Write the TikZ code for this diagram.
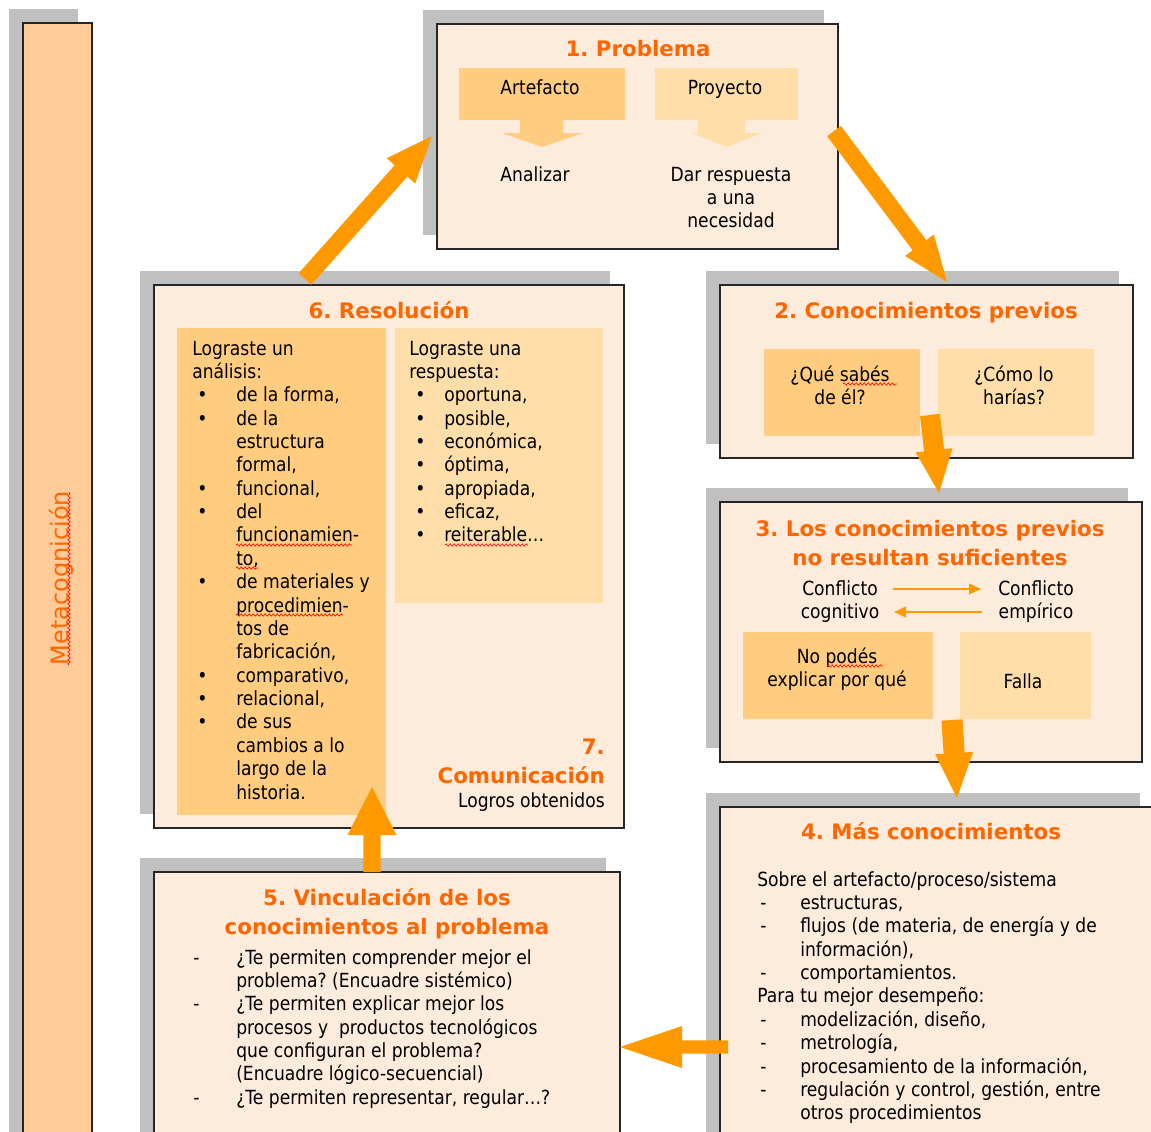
\documentclass[tikz,border=0pt]{standalone}
\usepackage{fontspec}
\setmainfont{DejaVu Sans}[FakeStretch=0.88]
\newfontfamily\titlef{DejaVu Sans}
\newfontfamily\metaf{DejaVu Sans}
\usetikzlibrary{arrows.meta,shadows,fit,calc,decorations.pathmorphing}
\frenchspacing
\definecolor{panelfill}{HTML}{FDEBDC}
\definecolor{shadowgray}{HTML}{C0C0C0}
\definecolor{barfill}{HTML}{FFCC99}
\definecolor{subdark}{HTML}{FFCC80}
\definecolor{sublight}{HTML}{FFDEAA}
\definecolor{arroworange}{HTML}{FF9900}
\definecolor{titleorange}{HTML}{FF6600}
\newcommand\bigarr[5]{%
  \coordinate (baH) at ($(#2)!#5!(#1)$);
  \fill[arrowfill] ($(#1)!#3!90:(#2)$) -- ($(baH)!#3!90:(#2)$) -- ($(baH)!#4!90:(#2)$) -- (#2) -- ($(baH)!#4!-90:(#2)$) -- ($(baH)!#3!-90:(#2)$) -- ($(#1)!#3!-90:(#2)$) -- cycle;
}
\newcommand\bl[3]{\hspace*{#1}\makebox[#2][l]{#3}}
\begin{document}
\begin{tikzpicture}[x=0.75pt,y=-0.75pt,
  panel/.style={inner sep=0pt, fill=panelfill, draw=black!85, line width=1.1pt,
    drop shadow={shadow xshift=-10.5pt, shadow yshift=10.5pt, fill=shadowgray, opacity=1}},
  subd/.style={inner sep=0pt, fill=subdark, draw=none},
  subl/.style={inner sep=0pt, fill=sublight, draw=none},
  body/.style={inner sep=0pt, text=black, font=\frenchspacing\fontsize{14.6}{17.53}\selectfont},
  ttl/.style={inner sep=0pt, text=titleorange, font=\frenchspacing\titlef\bfseries\fontsize{16}{21.75}\selectfont},
  meta/.style={inner sep=0pt, text=titleorange, font=\metaf\fontsize{18}{22}\selectfont},
  arrowfill/.style={fill=arroworange},
  smallarr/.style={draw=arroworange, line width=1.4pt, -{Triangle[length=9pt,width=8pt]}},
  squig/.style={draw=red, line width=0.5pt, decorate, decoration={snake, amplitude=0.8pt, segment length=3pt}}
]
\useasboundingbox (0,0) rectangle (1151,1131);
\fill[white] (0,0) rectangle (1151,1131);
\clip (0,0) rectangle (1151,1131);

% Metacognicion bar
\node[panel, fill=barfill, fit={(23,23)(92,1150)}] (bar) {};
\node[meta, rotate=90] (metatxt) at (61,578) {Metacognición};
\draw[squig] (69,665) -- (69,492);

% Box 1
\node[panel, fit={(437,24)(838,249)}] (p1) {};
\node[ttl, anchor=base] (t1) at (638,57) {1. Problema};
\node[subd, fit={(459,68)(625,120)}] (art) {};
\node[subl, fit={(655,68)(798,120)}] (proy) {};
\node[body, anchor=base] (artt) at (540,94) {Artefacto};
\node[body, anchor=base] (proyt) at (725,94) {Proyecto};
\fill[subdark] (520,119) -- (563,119) -- (563,133) -- (583,133) -- (542,147) -- (502,133) -- (520,133) -- cycle;
\fill[sublight] (698,119) -- (745,119) -- (745,133) -- (762,133) -- (727,147) -- (692,133) -- (698,133) -- cycle;
\node[body, anchor=base] (anal) at (535,181) {Analizar};
\node[body, anchor=base] (dar) at (731,181) {\parbox[t]{150pt}{\centering Dar respuesta\\a una\\necesidad}};

% Box 2
\node[panel, fit={(720,285)(1133,458)}] (p2) {};
\node[ttl, anchor=base] (t2) at (926,318) {2. Conocimientos previos};
\node[subd, fit={(764,349)(920,436)}] (que) {};
\node[subl, fit={(938,349)(1094,436)}] (como) {};
\node[body, anchor=base] (quet) at (840,381) {\parbox[t]{150pt}{\centering ¿Qué sabés\\de él?}};
\node[body, anchor=base] (comot) at (1014,381) {\parbox[t]{150pt}{\centering ¿Cómo lo\\harías?}};
\draw[squig] (843,384) -- (897,384);

% Box 3
\node[panel, fit={(720,502)(1142,762)}] (p3) {};
\node[ttl, anchor=base] (t3) at (930,536) {\parbox[t]{400pt}{\centering 3. Los conocimientos previos\\no resultan suficientes}};
\node[body, anchor=base] (cc) at (840,595) {\parbox[t]{100pt}{\centering Conflicto\\cognitivo}};
\node[body, anchor=base] (ce) at (1036,595) {\parbox[t]{100pt}{\centering Conflicto\\empírico}};
\coordinate (r1s) at (893,589); \coordinate (r1t) at (981,589);
\coordinate (l1s) at (982,612); \coordinate (l1t) at (894,612);
\draw[smallarr] (r1s) -- (r1t);
\draw[smallarr] (l1s) -- (l1t);
\node[subd, fit={(743,632)(933,719)}] (nop) {};
\node[subl, fit={(960,632)(1091,719)}] (falla) {};
\node[body, anchor=base] (nopt) at (837,663) {\parbox[t]{180pt}{\centering No podés\\explicar por qué}};
\node[body, anchor=base] (fallat) at (1023,688) {Falla};
\draw[squig] (827,666) -- (883,666);

% Box 4
\node[panel, fit={(720,807)(1154,1150)}] (p4) {};
\node[ttl, anchor=base] (t4) at (931,839) {4. Más conocimientos};
\node[body, anchor=base west] (l4) at (757,886) {\parbox[t]{400pt}{\raggedright
Sobre el artefacto/proceso/sistema\\
\bl{2.25pt}{30pt}{-}estructuras,\\
\bl{2.25pt}{30pt}{-}flujos (de materia, de energía y de\\
\hspace*{32.25pt}información),\\
\bl{2.25pt}{30pt}{-}comportamientos.\\
Para tu mejor desempeño:\\
\bl{2.25pt}{30pt}{-}modelización, diseño,\\
\bl{2.25pt}{30pt}{-}metrología,\\
\bl{2.25pt}{30pt}{-}procesamiento de la información,\\
\bl{2.25pt}{30pt}{-}regulación y control, gestión, entre\\
\hspace*{32.25pt}otros procedimientos}};

% Box 5
\node[panel, fit={(154,872)(620,1150)}] (p5) {};
\node[ttl, anchor=base] (t5) at (387,905) {\parbox[t]{400pt}{\centering 5. Vinculación de los\\conocimientos al problema}};
\node[body, anchor=base west] (l5) at (193,964) {\parbox[t]{400pt}{\raggedright
\bl{0pt}{32.25pt}{-}¿Te permiten comprender mejor el\\
\hspace*{32.25pt}problema? (Encuadre sistémico)\\
\bl{0pt}{32.25pt}{-}¿Te permiten explicar mejor los\\
\hspace*{32.25pt}procesos y\ \ productos tecnológicos\\
\hspace*{32.25pt}que configuran el problema?\\
\hspace*{32.25pt}(Encuadre lógico-secuencial)\\
\bl{0pt}{32.25pt}{-}¿Te permiten representar, regular…?}};

% Box 6
\node[panel, fit={(154,285)(624,828)}] (p6) {};
\node[ttl, anchor=base] (t6) at (389,318) {6. Resolución};
\node[subd, fit={(177,328)(386,815)}] (colL) {};
\node[subl, fit={(395,328)(603,603)}] (colR) {};
\node[body, anchor=base west] (l6) at (192,355) {\parbox[t]{200pt}{\raggedright
Lograste un\\
análisis:\\
\bl{3.75pt}{29.25pt}{•}de la forma,\\
\bl{3.75pt}{29.25pt}{•}de la\\
\hspace*{33pt}estructura\\
\hspace*{33pt}formal,\\
\bl{3.75pt}{29.25pt}{•}funcional,\\
\bl{3.75pt}{29.25pt}{•}del\\
\hspace*{33pt}funcionamien-\\
\hspace*{33pt}to,\\
\bl{3.75pt}{29.25pt}{•}de materiales y\\
\hspace*{33pt}procedimien-\\
\hspace*{33pt}tos de\\
\hspace*{33pt}fabricación,\\
\bl{3.75pt}{29.25pt}{•}comparativo,\\
\bl{3.75pt}{29.25pt}{•}relacional,\\
\bl{3.75pt}{29.25pt}{•}de sus\\
\hspace*{33pt}cambios a lo\\
\hspace*{33pt}largo de la\\
\hspace*{33pt}historia.}};
\node[body, anchor=base west] (r6) at (409,355) {\parbox[t]{200pt}{\raggedright
Lograste una\\
respuesta:\\
\bl{4.5pt}{21.75pt}{•}oportuna,\\
\bl{4.5pt}{21.75pt}{•}posible,\\
\bl{4.5pt}{21.75pt}{•}económica,\\
\bl{4.5pt}{21.75pt}{•}óptima,\\
\bl{4.5pt}{21.75pt}{•}apropiada,\\
\bl{4.5pt}{21.75pt}{•}eficaz,\\
\bl{4.5pt}{21.75pt}{•}reiterable…}};
\draw[squig] (236,545) -- (352,545);
\draw[squig] (236,568) -- (258,568);
\draw[squig] (236,615) -- (343,615);
\draw[squig] (445,545) -- (528,545);
\node[ttl, anchor=base east] (t7) at (605,754) {\parbox[t]{200pt}{\raggedleft 7.\\Comunicación}};
\node[body, anchor=base east] (logros) at (605,807) {Logros obtenidos};

% Big arrows
\coordinate (a61s) at (305,279); \coordinate (a61t) at (432,136);
\coordinate (a12s) at (834,131); \coordinate (a12t) at (947,282);
\coordinate (a23s) at (930,415); \coordinate (a23t) at (939,493);
\coordinate (a34s) at (952,720); \coordinate (a34t) at (957,798);
\coordinate (a45s) at (728,1047); \coordinate (a45t) at (620,1047);
\coordinate (a56s) at (372,872); \coordinate (a56t) at (372,787);
\bigarr{a61s}{a61t}{6.4pt}{14.25pt}{35pt}
\bigarr{a12s}{a12t}{6.4pt}{13.5pt}{34.5pt}
\bigarr{a23s}{a23t}{7.5pt}{13.9pt}{32.25pt}
\bigarr{a34s}{a34t}{7.9pt}{14.25pt}{33.75pt}
\bigarr{a45s}{a45t}{4.9pt}{15.75pt}{46.5pt}
\bigarr{a56s}{a56t}{6.4pt}{18.4pt}{36pt}
\end{tikzpicture}
\end{document}
